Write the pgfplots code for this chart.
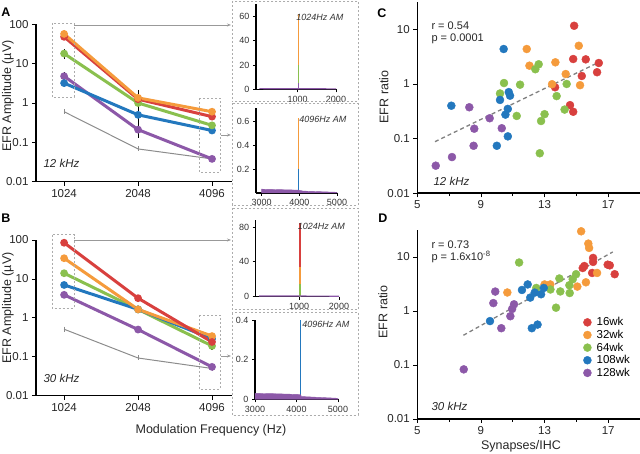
\documentclass[border=0pt]{standalone}
\usepackage{fontspec}
\setmainfont{Liberation Sans}
\usepackage{pgfplots}
\pgfplotsset{compat=1.18}
\usetikzlibrary{arrows.meta}
\definecolor{cR}{RGB}{216,64,62}
\definecolor{cO}{RGB}{245,155,60}
\definecolor{cG}{RGB}{138,192,78}
\definecolor{cB}{RGB}{35,120,190}
\definecolor{cP}{RGB}{140,88,168}
\definecolor{cK}{RGB}{140,140,140}
\pgfplotsset{
  base/.style={scale only axis, anchor=south west, axis lines=left,
    axis line style={-, line width=1.6pt}, tick style={line width=0.8pt, black},
    major tick length=4pt, tick align=outside,
    /pgf/number format/assume math mode=true, /pgf/number format/1000 sep={},
    scaled ticks=false, tick label style={font=\fontsize{11.5}{13}\selectfont, text=black!85},
    clip=false},
  inset/.style={base, axis line style={-, line width=1.4pt}, major tick length=3pt,
    tick label style={font=\fontsize{9}{10}\selectfont, text=black!80}},
  ser/.style={color=#1, line width=3pt, mark=*, mark size=2.3pt},
  eb/.style={black, line width=1.1pt, forget plot},
  gry/.style={cK, line width=1pt, mark=|, mark size=2.5pt, mark options={line width=0.8pt}},
  spk/.style={color=#1, line width=1.5pt},
  dot/.style={only marks, mark=*, mark size=4pt, color=#1},
}
\begin{document}
\begin{tikzpicture}
\path[use as bounding box] (0pt,0pt) rectangle (640pt,454pt);

% ---------------- Panel A ----------------
\begin{axis}[base, at={(36pt,272.3pt)}, width=196pt, height=157.4pt,
  xmin=-0.38, xmax=2.27, ymode=log, ymin=0.01, ymax=100,
  xtick={0,1,2}, xticklabels={1024,2048,4096},
  ytick={0.01,0.1,1,10,100}, yticklabels={0.01,0.1,1,10,100}, yminorticks=false]
\addplot[gry] coordinates {(0,0.6) (1,0.068) (2,0.038)};
\addplot[ser=cP] coordinates {(0,4.8) (1,0.21) (2,0.038)};
\addplot[ser=cB] coordinates {(0,3.2) (1,0.5) (2,0.2)};
\addplot[ser=cG] coordinates {(0,18) (1,1.0) (2,0.27)};
\addplot[ser=cR] coordinates {(0,48) (1,1.25) (2,0.45)};
\addplot[ser=cO] coordinates {(0,57) (1,1.35) (2,0.6)};
\addplot[eb] coordinates {(0,23) (0,13.4)};
\addplot[eb] coordinates {(0,6) (0,3.8)};
\addplot[eb] coordinates {(1,2.14) (1,0.129)};
\addplot[eb] coordinates {(2,0.7) (2,0.36)};
\addplot[eb] coordinates {(2,0.046) (2,0.032)};
\end{axis}

% ---------------- Panel B ----------------
\begin{axis}[base, at={(36pt,58.3pt)}, width=196pt, height=155.7pt,
  xmin=-0.38, xmax=2.27, ymode=log, ymin=0.01, ymax=100,
  xtick={0,1,2}, xticklabels={1024,2048,4096},
  ytick={0.01,0.1,1,10,100}, yticklabels={0.01,0.1,1,10,100}, yminorticks=false]
\addplot[gry] coordinates {(0,0.51) (1,0.093) (2,0.05)};
\addplot[ser=cP] coordinates {(0,3.9) (1,0.5) (2,0.055)};
\addplot[ser=cG] coordinates {(0,14) (1,1.65) (2,0.19)};
\addplot[ser=cB] coordinates {(0,7) (1,1.65) (2,0.29)};
\addplot[ser=cO] coordinates {(0,34) (1,1.65) (2,0.34)};
\addplot[ser=cR] coordinates {(0,85) (1,3.2) (2,0.24)};
\addplot[eb] coordinates {(0,40) (0,28)};
\addplot[eb] coordinates {(0,16.5) (0,11.5)};
\addplot[eb] coordinates {(0,4.6) (0,3.3)};
\addplot[eb] coordinates {(1,3.9) (1,2.6)};
\addplot[eb] coordinates {(1,2.0) (1,1.3)};
\addplot[eb] coordinates {(1,0.56) (1,0.44)};
\addplot[eb] coordinates {(2,0.4) (2,0.15)};
\addplot[eb] coordinates {(2,0.065) (2,0.045)};
\end{axis}

% ---------------- Inset 1 ----------------
\begin{axis}[inset, at={(256pt,364.5pt)}, width=80pt, height=85.5pt,
  xmin=-90, xmax=2000, ymin=0, ymax=70,
  xtick={1000,2000}, ytick={0,20,40,60}]
\addplot[spk=cR] coordinates {(1024,0) (1024,48)};
\addplot[spk=cO] coordinates {(1024,0) (1024,62)};
\addplot[spk=cG] coordinates {(1024,0) (1024,20)};
\addplot[spk=cP] coordinates {(1024,0) (1024,5)};
\addplot[cP, line width=1.2pt] coordinates {(0,0.7) (1000,0.6) (2000,0.5)};
\end{axis}

% ---------------- Inset 2 ----------------
\begin{axis}[inset, at={(256pt,261pt)}, width=81pt, height=84.7pt,
  xmin=2849, xmax=5000, ymin=0, ymax=0.71,
  xtick={3000,4000,5000}, ytick={0.2,0.4,0.6}]
\addplot[spk=cO] coordinates {(3980,0) (3980,0.63)};
\addplot[spk=cB] coordinates {(3980,0) (3980,0.2)};
\addplot[fill=cP, draw=cP, line width=0.4pt] coordinates {(3000,0) (3000,0.032) (3500,0.028) (3980,0.024) (4100,0.016) (5000,0.006) (5000,0)} -- cycle;
\end{axis}

% ---------------- Inset 3 ----------------
\begin{axis}[inset, at={(255.7pt,157.3pt)}, width=83.3pt, height=76.7pt,
  xmin=-83, xmax=2000, ymin=0, ymax=88,
  xtick={1000,2000}, ytick={0,40,80}]
\addplot[spk=cR] coordinates {(1024,0) (1024,85)};
\addplot[spk=cO] coordinates {(1024,0) (1024,34)};
\addplot[spk=cG] coordinates {(1024,0) (1024,14)};
\addplot[cP, line width=1.2pt] coordinates {(0,0.8) (1000,0.7) (2000,0.6)};
\end{axis}

% ---------------- Inset 4 ----------------
\begin{axis}[inset, at={(255pt,54.7pt)}, width=83pt, height=79.3pt,
  xmin=3000, xmax=5000, ymin=0, ymax=0.4,
  xtick={3000,4000,5000}, ytick={0,0.2,0.4}, yticklabels={0,0.2,0.4}]
\addplot[spk=cB] coordinates {(4096,0) (4096,0.4)};
\addplot[fill=cP, draw=cP, line width=0.4pt] coordinates {(3000,0) (3000,0.03) (3500,0.028) (4096,0.024) (4120,0.014) (5000,0.005) (5000,0)} -- cycle;
\end{axis}

% ---------------- Panel C ----------------
\begin{axis}[base, at={(417.3pt,260.7pt)}, width=222.7pt, height=191.3pt,
  xmin=5, xmax=19, ymode=log, ymin=0.01, ymax=31.6,
  xtick={5,9,13,17}, minor xtick={7,11,15},
  ytick={0.01,0.1,1,10}, yticklabels={0.01,0.1,1,10}, yminorticks=false]
\addplot[gray, dashed, line width=1.3pt, dash pattern=on 4pt off 3pt] coordinates {(6.11,0.088) (16.28,2.39)};
\addplot[dot=cR] coordinates {(14.86,11.6) (14.8,2.86) (15.59,2.82) (16.41,2.42) (16.3,1.64) (15.34,1.4) (13.66,0.87) (14.6,0.41) (14.8,0.31)};
\addplot[dot=cO] coordinates {(11.88,4.36) (15.15,5.0) (12.05,2.16) (13.68,2.49) (14.33,1.52) (13.47,0.99) (15.23,0.95)};
\addplot[dot=cG] coordinates {(12.63,2.29) (12.42,1.86) (10.45,1.04) (11.46,0.97) (10.2,0.67) (14.39,1.0) (13.76,0.6) (14.26,0.34) (13.0,0.28) (11.25,0.26) (12.78,0.21) (12.7,0.054)};
\addplot[dot=cB] coordinates {(10.43,4.36) (10.75,0.71) (10.83,0.61) (10.2,0.51) (7.14,0.40) (10.69,0.35) (10.54,0.275) (10.69,0.11) (10.0,0.074)};
\addplot[dot=cP] coordinates {(8.27,0.375) (9.55,0.236) (8.58,0.152) (10.31,0.155) (8.54,0.074) (7.18,0.046) (6.16,0.032)};
\end{axis}

% ---------------- Panel D ----------------
\begin{axis}[base, at={(417.3pt,35pt)}, width=222.7pt, height=189pt,
  xmin=5, xmax=19, ymode=log, ymin=0.01, ymax=31.6,
  xtick={5,9,13,17}, minor xtick={7,11,15},
  ytick={0.01,0.1,1,10}, yticklabels={0.01,0.1,1,10}, yminorticks=false,
  legend style={at={(0.745,0.55)}, anchor=north west, draw=none, fill=none,
    font=\fontsize{11.5}{13}\selectfont, row sep=-1.6pt, inner sep=0pt,
    nodes={inner sep=2.2pt},
    /tikz/every odd column/.append style={column sep=3pt}},
  legend cell align=left]
\addplot[dot=cR] coordinates {(16.05,9.6) (16.05,8.1) (15.5,6.8) (15.4,6.25) (16.97,7.2) (17.1,7.0) (17.41,4.8) (15.99,5.06)};
\addplot[dot=cO] coordinates {(15.3,29.9) (15.75,17.7) (15.8,14.7) (16.3,5.06) (15.6,3.4) (15.06,2.83) (13.0,3.1) (13.36,3.1) (10.66,2.2)};
\addplot[dot=cG] coordinates {(11.4,7.9) (14.98,4.8) (14.77,3.87) (13.93,4.0) (14.56,3.0) (13.37,2.5) (13.99,2.3) (14.58,2.15) (12.48,2.67) (13.72,1.15)};
\addplot[dot=cB] coordinates {(11.94,3.1) (11.58,2.45) (12.95,2.67) (12.38,2.19) (12.78,2.04) (12.1,1.77) (9.57,0.65) (12.2,0.48) (12.56,0.56)};
\addplot[dot=cP] coordinates {(9.9,2.29) (9.78,1.4) (11.08,1.33) (10.96,1.09) (10.85,0.8) (10.28,0.48) (7.92,0.083)};
\legend{16wk,32wk,64wk,108wk,128wk}
\addplot[gray, dashed, line width=1.3pt, dash pattern=on 4pt off 3pt, forget plot] coordinates {(7.9,0.355) (17.29,12.4)};
\end{axis}

% ---------------- annotations ----------------
\begin{scope}[x=1pt, y=1pt]
\begin{scope}[gray!65, line width=0.6pt, dash pattern=on 2pt off 2pt]
\draw (52,431) rectangle (74,357);
\draw (199,356) rectangle (220,282);
\draw (52,219.3) rectangle (74,146);
\draw (199,139) rectangle (220,65);
\draw (232,453) rectangle (358,352.3);
\draw (232,350.7) rectangle (358,249);
\draw (232,246) rectangle (358,144.7);
\draw (232,141.3) rectangle (358,39);
\end{scope}
\begin{scope}[gray!80, line width=0.7pt, -{Stealth[length=4pt,width=3pt]}]
\draw (74,429) -- (231,429);
\draw (221,319) -- (231,319);
\draw (74,214) -- (231,214);
\draw (221,98) -- (231,98);
\end{scope}

\begin{scope}[font=\fontsize{12.5}{14}\selectfont\bfseries]
\node at (6,441.5) {A};
\node at (6,236) {B};
\node at (382,440.7) {C};
\node at (383,236) {D};
\end{scope}

\begin{scope}[font=\fontsize{12.5}{14}\selectfont, text=black!85]
\node[rotate=90] at (8,358) {EFR Amplitude (µV)};
\node[rotate=90] at (8,146) {EFR Amplitude (µV)};
\node[rotate=90] at (384,357) {EFR ratio};
\node[rotate=90] at (383,142) {EFR ratio};
\node at (211,24) {Modulation Frequency (Hz)};
\node at (521,7.5) {Synapses/IHC};
\end{scope}

\begin{scope}[font=\fontsize{11}{12}\selectfont, text=black!85]
\node[anchor=west] at (428,428) {r = 0.54};
\node[anchor=west] at (428,414.7) {p = 0.0001};
\node[anchor=west] at (428,209.5) {r = 0.73};
\node[anchor=west] at (428,197.5) {p = 1.6x10\textsuperscript{-8}};
\node[anchor=west, font=\fontsize{11.5}{13}\selectfont\itshape] at (430,272.3) {12 kHz};
\node[anchor=west, font=\fontsize{11.5}{13}\selectfont\itshape] at (428,47.3) {30 kHz};
\node[anchor=west, font=\fontsize{11.5}{13}\selectfont\itshape] at (40,291) {12 kHz};
\node[anchor=west, font=\fontsize{11.5}{13}\selectfont\itshape] at (40,76) {30 kHz};
\end{scope}

\begin{scope}[font=\fontsize{9}{10}\selectfont\itshape, text=black!80]
\node[anchor=east] at (347,436.7) {1024Hz AM};
\node[anchor=east] at (350,334.7) {4096Hz AM};
\node[anchor=east] at (348.5,228) {1024Hz AM};
\node[anchor=east] at (353,129.7) {4096Hz AM};
\end{scope}
\end{scope}
\end{tikzpicture}
\end{document}
